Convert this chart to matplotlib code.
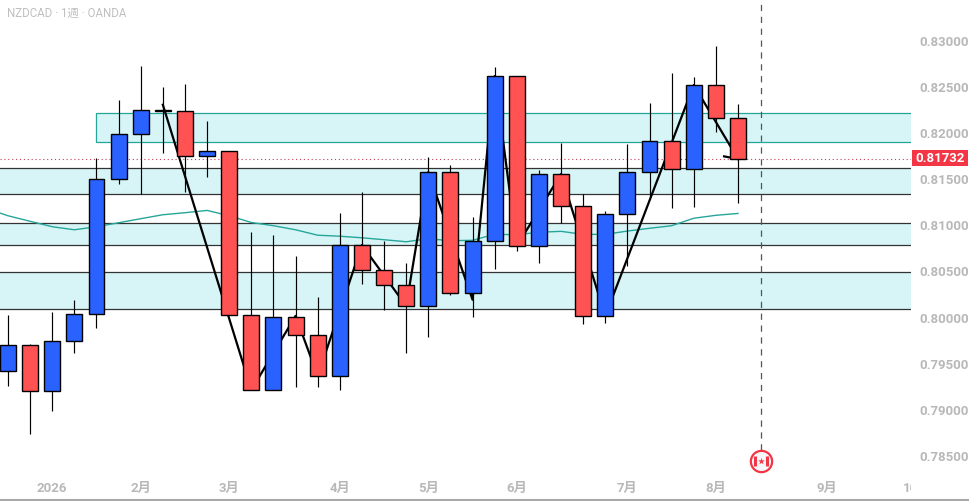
import matplotlib
matplotlib.use('Agg')
import matplotlib.pyplot as plt
from matplotlib.lines import Line2D
from matplotlib.patches import Rectangle
from matplotlib.transforms import ScaledTranslation
import numpy as np

plt.rcParams['font.family'] = ['Roboto', 'Noto Sans CJK JP', 'DejaVu Sans']

# Weekly candles
opens = [0.79432, 0.79714, 0.79215, 0.79757, 0.80050, 0.81514, 0.82002, 0.82255, 0.82252, 0.81764,
         0.81818, 0.80039, 0.79226, 0.80017, 0.79822, 0.79377, 0.80798, 0.80527, 0.80364, 0.80137,
         0.81590, 0.80278, 0.80842, 0.82631, 0.80787, 0.81568, 0.81221, 0.80028, 0.81134, 0.81590,
         0.81926, 0.81623, 0.82534, 0.82176]
closes = [0.79714, 0.79215, 0.79757, 0.80050, 0.81514, 0.82002, 0.82262, 0.82262, 0.81764, 0.81818,
          0.80039, 0.79226, 0.80017, 0.79822, 0.79377, 0.80798, 0.80527, 0.80364, 0.80137, 0.81590,
          0.80278, 0.80842, 0.82631, 0.80787, 0.81568, 0.81221, 0.80028, 0.81134, 0.81590, 0.81926,
          0.81623, 0.82534, 0.82176, 0.81732]
highs = [0.80042, 0.79728, 0.80067, 0.80205, 0.81742, 0.82374, 0.82743, 0.82515, 0.82548, 0.82146,
         0.81818, 0.80943, 0.80910, 0.80682, 0.80238, 0.81149, 0.81376, 0.80845, 0.80606, 0.81756,
         0.81669, 0.81105, 0.82732, 0.82631, 0.81615, 0.81908, 0.81347, 0.81170, 0.81897, 0.82342,
         0.82667, 0.82624, 0.82960, 0.82331]
lows = [0.79265, 0.78744, 0.78994, 0.79623, 0.79894, 0.81456, 0.81355, 0.81792, 0.81369, 0.81531,
        0.80039, 0.79226, 0.79226, 0.79254, 0.79254, 0.79229, 0.80371, 0.80089, 0.79623, 0.79796,
        0.80259, 0.80013, 0.80534, 0.80729, 0.80599, 0.81037, 0.79937, 0.79948, 0.80566, 0.81322,
        0.81195, 0.81206, 0.82020, 0.81250]

# Moving average, one value per candle plus the start at the left edge
ma_x = [-0.36] + list(range(34))
ma_y = [0.81145, 0.81116, 0.81056, 0.80997, 0.80964, 0.80997, 0.81040, 0.81084, 0.81127, 0.81149,
        0.81174, 0.81116, 0.81043, 0.81008, 0.80964, 0.80905, 0.80894, 0.80877, 0.80856, 0.80834,
        0.80867, 0.80845, 0.80850, 0.80915, 0.80910, 0.80937, 0.80947, 0.80914, 0.80914, 0.80950,
        0.80980, 0.81008, 0.81089, 0.81121, 0.81141]

# Black zigzag
zig_x = [7, 11, 13, 14, 16, 18, 19, 21, 22, 23, 25, 27, 31, 33]
zig_y = [0.82320, 0.79226, 0.80030, 0.79377, 0.80798, 0.80137, 0.81590, 0.80205, 0.82631, 0.80787,
         0.81568, 0.80028, 0.82534, 0.81732]
tail_x = [32.37, 33]
tail_y = [0.81760, 0.81732]

# Zones (low, high)
teal_zone = (0.81911, 0.82230)
dark_zones = [(0.81351, 0.81633), (0.80798, 0.81037), (0.80104, 0.80505)]

y_ticks = [0.785, 0.79, 0.795, 0.80, 0.805, 0.81, 0.815, 0.82, 0.825, 0.83]
x_ticks = [2, 6, 10, 15, 19, 23, 28, 32, 37]
x_labels = ['2026', '2月', '3月', '4月', '5月', '6月', '7月', '8月', '9月']

last_price = 0.81732
event_x = 34.05
event_y = 0.78455

BLUE = '#2962ff'
RED = '#ff5252'
ZONE = '#d7f5f7'
TEAL = '#26a69a'
GRAY = '#b8b8b8'

fig = plt.figure(figsize=(9.7, 5.02), dpi=100)
ax = fig.add_axes([0, 1 / 502, 911 / 970, 501 / 502])
ax.set_xlim(-0.3617, 40.82)
ax.set_ylim(0.78033, 0.83467)

# zones
ax.add_patch(Rectangle((4, teal_zone[0]), 45, teal_zone[1] - teal_zone[0],
                       facecolor=ZONE, edgecolor=TEAL, linewidth=0.9, zorder=1))
for low, high in dark_zones:
    ax.axhspan(low, high, facecolor=ZONE, edgecolor='none', zorder=1)
    ax.axhline(low, color='#333333', linewidth=0.9, zorder=1.5)
    ax.axhline(high, color='#333333', linewidth=0.9, zorder=1.5)

ax.plot(ma_x, ma_y, color=TEAL, linewidth=1.0, zorder=2)
ax.axhline(last_price, color='#c2405a', linewidth=0.8, linestyle=(0, (1, 2.5)), zorder=2)

ax.plot(zig_x, zig_y, color='black', linewidth=1.6, zorder=3)
ax.plot(tail_x, tail_y, color='black', linewidth=1.6, zorder=3)

# candles
x = np.arange(len(opens))
ax.vlines(x, lows, highs, color='black', linewidth=0.85, zorder=4)
for i in x:
    color = BLUE if closes[i] >= opens[i] else RED
    bottom = min(opens[i], closes[i])
    ax.bar(i, abs(closes[i] - opens[i]), 0.72, bottom=bottom, color=color,
           edgecolor='black', linewidth=1.0, zorder=5)

# event line and marker
ax.plot([event_x, event_x], [event_y + 0.0012, 0.84], color='#555555', linewidth=0.9,
        linestyle=(0, (5, 4.5)), zorder=6)
ax.scatter([event_x], [event_y], s=235, facecolor='#f6f7fb', edgecolor='#f23645', linewidth=1.6, zorder=7)
ax.scatter([event_x - 0.26, event_x + 0.26], [event_y, event_y], s=42, marker='|', color='#f23645',
           linewidth=2.2, zorder=8)
ax.scatter([event_x], [event_y], s=26, marker='*', color='#f23645', linewidth=0, zorder=8)

# axes
for side in ['top', 'left', 'right', 'bottom']:
    ax.spines[side].set_visible(False)
fig.add_artist(Line2D([0, 1], [1 / 502, 1 / 502], transform=fig.transFigure, color='#a8a8a8', linewidth=1.5))

ax.yaxis.tick_right()
ax.set_yticks(y_ticks)
ax.set_yticklabels(['%.5f' % v for v in y_ticks], color=GRAY, fontsize=9.5, fontweight='bold')
ax.tick_params(axis='y', length=0, pad=6)
# labels sit a little high in the reference
lift = ScaledTranslation(0, 1.5 / 72, fig.dpi_scale_trans)
for label in ax.get_yticklabels():
    label.set_transform(label.get_transform() + lift)

ax.set_xticks(x_ticks)
ax.set_xticklabels(x_labels, color=GRAY, fontsize=9.5, fontweight='bold')
ax.tick_params(axis='x', length=0, pad=-14)
ax.text(41.1, 0.78168, '10月', color=GRAY, fontsize=9.5, fontweight='bold', ha='center', va='center', clip_on=True)

# last price tag
fig.add_artist(Rectangle((912 / 970, 1 - 167 / 502), 56 / 970, 16 / 502, transform=fig.transFigure,
                         facecolor='#f23645', edgecolor='none'))
fig.text(940 / 970, 1 - 159 / 502, '%.5f' % last_price, color='white', fontsize=9.5, fontweight='bold',
         ha='center', va='center')

fig.text(7 / 970, 1 - 13 / 502, 'NZDCAD · 1週 · OANDA', color='#c0c0c0', fontsize=8.3, va='center')

plt.savefig('out.png', dpi=100)
